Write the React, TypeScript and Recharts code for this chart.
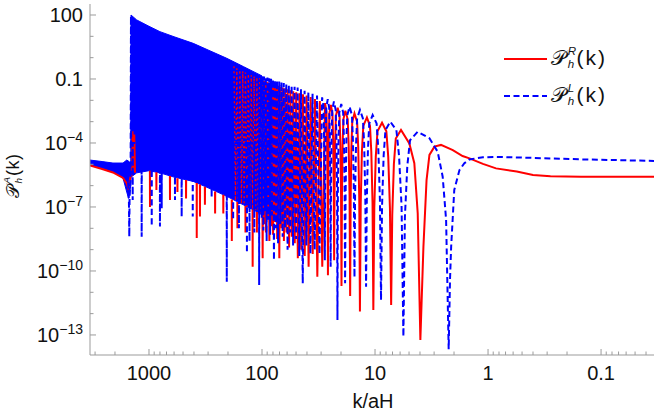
import React from 'react';
import { ComposedChart, Line, Area, XAxis, YAxis, Legend } from 'recharts';

const RED = '#ff0000';
const BLUE = '#0000ff';
const FRAME = '#9b9b9b';
const INK = '#111111';
const FONT = '"Liberation Sans", Arial, sans-serif';
const SCRIPT = '"DejaVu Sans", "DejaVu Serif", serif';

// axis range (k/aH runs from large on the left to small on the right)
const kDomain = [0.034, 3327];
const pDomain = [1.15e-14, 328];

const xMajor = [1000, 100, 10, 1, 0.1];
const xMinor = [
  3000, 2000, 900, 800, 700, 600, 500, 400, 300, 200, 90, 80, 70, 60, 50, 40, 30, 20,
  9, 8, 7, 6, 5, 4, 3, 2, 0.9, 0.8, 0.7, 0.6, 0.5, 0.4, 0.3, 0.2, 0.09, 0.08, 0.07, 0.06, 0.05, 0.04,
];
const yMajor = [1e2, 1e-1, 1e-4, 1e-7, 1e-10, 1e-13];
const yMinor = [1e1, 1, 1e-2, 1e-3, 1e-5, 1e-6, 1e-8, 1e-9, 1e-11, 1e-12];

// values below are [k/aH, log10 P]

// solid blue region where the oscillations are too dense to resolve: [k, log10 low, log10 high]
const blueBand = [
  [3327, -5.03, -4.8], [2600, -5.2, -4.87], [2085, -5.36, -4.94], [1698, -5.64, -4.94],
  [1574, -6.3, -4.8], [1515, -6.6, -4.85], [1450, -6.0, -5.0], [1443, -5.6, 2.0],
  [1285, -5.4, 1.77], [1000, -5.3, 1.47], [800, -5.4, 1.22], [600, -5.6, 0.98],
  [406, -5.8, 0.67], [300, -6.1, 0.36], [205, -6.5, -0.03], [146, -6.9, -0.42],
  [104, -7.3, -0.81], [100.5, -7.4, -0.85],
];

const redLeft = [
  [3327, -5.05], [2600, -5.22], [2085, -5.38], [1698, -5.64], [1574, -5.9],
  [1530, -6.1], [1500, -6.0], [1460, -5.6], [1420, -5.5], [1400, -3.45], [1385, -5.3],
  [1350, -3.6], [1330, -5.4],
];
// isolated dips below the dense region: [k, log10 where it leaves the blue, log10 depth]
const redDips = [
  [980, -5.3, -7.0], [860, -5.37, -6.2], [652, -5.55, -6.67], [560, -5.65, -6.3], [470, -5.73, -6.6],
  [378, -5.88, -8.46], [354, -5.95, -7.45], [320, -6.05, -6.9], [260, -6.28, -7.3], [220, -6.43, -7.3],
  [185, -6.65, -8.6], [165, -6.77, -8.0], [140, -6.95, -8.2], [121, -7.12, -9.8], [111, -7.24, -8.2],
];
// red swings seen through the gaps of the blue dashes, between k = 180 and 100
const redThrough = [
  [177, -0.4], [172, -6.7], [167, -0.5], [162, -6.8], [157, -0.58], [152, -6.85], [148, -0.64],
  [144, -6.9], [140, -0.7], [136, -7.0], [132, -0.76], [128, -7.05], [124.5, -0.82], [121, -7.1],
  [117.5, -0.87], [114, -7.15], [111, -0.92], [108, -7.2], [105, -0.96], [102, -7.3],
];
const redWaves = [
  [100.3, -1.06], [98.7, -9.4], [97.1, -1.08], [95.6, -7.8], [94, -1.1], [92.4, -8.2],
  [90.8, -1.13], [89.2, -7.5], [87.7, -1.16], [86.1, -8.6], [84.5, -1.19], [82.9, -7.9],
  [81.4, -1.22], [79.8, -8.3], [78.2, -1.25], [76.6, -7.7], [75, -1.29], [73.4, -8.5],
  [71.9, -1.32], [70.3, -9.4], [68.7, -1.36], [67.1, -8.0], [65.5, -1.4], [64, -8.6],
  [62.4, -1.44], [60.8, -8.2], [59.2, -1.48], [57.6, -8.9], [56.1, -1.53], [54.5, -8.4],
  [52.9, -1.57], [51.3, -8.7], [49.8, -1.62], [48.2, -9.4], [46.6, -1.67], [45, -9.0],
  [43.4, -1.72], [41.9, -9.3], [40.3, -1.78], [38.7, -9.8], [37.1, -1.85], [35.6, -9.2],
  [34, -1.94], [32.4, -10.27], [30.8, -2.03], [29.3, -9.8], [27.7, -2.13],
  [26.9, -2.53], [26.58, -3.73], [26.29, -6.13], [26.1, -10.2], [25.92, -6.22], [25.65, -3.82], [25.35, -2.62],
  [24.6, -2.22], [23.8, -2.62], [23.48, -3.82], [23.19, -6.22], [23, -9.5], [22.81, -6.35], [22.52, -3.95], [22.2, -2.75],
  [21.4, -2.35], [20.6, -2.75], [20.28, -3.95], [19.99, -6.35], [19.8, -10.7], [19.62, -6.49], [19.35, -4.09], [19.05, -2.89],
  [18.3, -2.49], [17.45, -2.89], [17.11, -4.09], [16.8, -6.49], [16.6, -11.17], [16.43, -6.61], [16.18, -4.21], [15.9, -3.01],
  [15.2, -2.61], [14.4, -3.01], [14.08, -4.21], [13.79, -6.61], [13.6, -11.9], [13.38, -6.8], [13.06, -4.4], [12.7, -3.2],
  [11.8, -2.8], [11.08, -3.2], [10.79, -4.4], [10.52, -6.8], [10.35, -11.83], [10.15, -7.05], [9.85, -4.65], [9.51, -3.45],
  [8.67, -3.05], [7.94, -3.45], [7.64, -4.65], [7.38, -7.05], [7.2, -11.6], [7.04, -7.39], [6.81, -4.99], [6.55, -3.79],
  [5.89, -3.39], [4.97, -4.02], [4.49, -4.95], [4.19, -7.3], [3.97, -13.24], [3.73, -8.86], [3.5, -5.74], [3.3, -4.56],
  [2.98, -4.17], [2.61, -4.09], [2.05, -4.33], [1.68, -4.61], [1.46, -4.72], [1.11, -4.98], [0.85, -5.19],
  [0.557, -5.34], [0.4, -5.5], [0.28, -5.56], [0.15, -5.58], [0.034, -5.58],
];

const blueLeft = [
  [3327, -4.92], [2600, -5.03], [2085, -5.15], [1698, -5.3], [1574, -5.5], [1530, -5.9],
  [1505, -6.8], [1494, -8.39], [1486, -6.6], [1455, -5.6], [1444, 1.95], [1436, -4],
];
const blueDips = [
  [1394, -6.67], [1161, -8.39], [946, -7.9], [800, -7.92], [772, -7.06], [589, -6.67], [514, -7.45],
  [410, -7.45], [279, -6.52], [205, -10.5], [180, -7.6], [160, -8.0], [136, -9.16], [129, -8.6],
  [117, -8.2], [106, -10.66],
];
const blueWaves = [
  [102.1, -0.84], [100.5, -7.5], [98.9, -0.86], [97.3, -8.1], [95.8, -0.88], [94.2, -7.2],
  [92.6, -0.91], [91, -8.6], [89.5, -0.93], [87.9, -7.6], [86.3, -0.96], [84.7, -8.3],
  [83.1, -0.99], [81.5, -7.4], [80, -1.02], [78.4, -9.5], [76.8, -1.05], [75.2, -8.0],
  [73.7, -1.08], [72.1, -8.7], [70.5, -1.12], [68.9, -7.8], [67.3, -1.15], [65.7, -8.4],
  [64.2, -1.19], [62.6, -8.0], [61, -1.23], [59.4, -9.0], [57.9, -1.27], [56.3, -8.2],
  [54.7, -1.31], [53.1, -8.8], [51.5, -1.36], [49.9, -8.5], [48.4, -1.4], [46.8, -9.3],
  [45.2, -1.48], [43.6, -10.58], [42, -1.55], [40.5, -8.8], [38.9, -1.62], [37.3, -9.2],
  [35.7, -1.69], [34.2, -9.0], [32.6, -1.77], [31, -9.2], [29.4, -1.86],
  [28.6, -2.26], [28.28, -3.46], [27.99, -5.86], [27.8, -9.5], [27.61, -5.95], [27.32, -3.55], [27.0, -2.35],
  [26.2, -1.95], [25.45, -2.35], [25.15, -3.55], [24.88, -5.95], [24.7, -9.8], [24.51, -6.05], [24.22, -3.65], [23.9, -2.45],
  [23.1, -2.05], [22.3, -2.45], [21.98, -3.65], [21.69, -6.05], [21.5, -12.3], [21.31, -6.17], [21.02, -3.77], [20.7, -2.57],
  [19.9, -2.17], [19.15, -2.57], [18.85, -3.77], [18.58, -6.17], [18.4, -10.58], [18.21, -6.3], [17.92, -3.9], [17.6, -2.7],
  [16.8, -2.3], [16.0, -2.7], [15.68, -3.9], [15.39, -6.3], [15.2, -10.3], [15.01, -6.45], [14.72, -4.05], [14.4, -2.85],
  [13.6, -2.45], [12.8, -2.85], [12.48, -4.05], [12.19, -6.45], [12.0, -10.74], [11.82, -6.69], [11.55, -4.29], [11.25, -3.09],
  [10.5, -2.69], [9.68, -3.09], [9.35, -4.29], [9.05, -6.69], [8.85, -11.36], [8.67, -7.0], [8.39, -4.6], [8.09, -3.4],
  [7.33, -3.0], [6.47, -3.4], [6.13, -4.6], [5.82, -7.0], [5.61, -13.08], [5.44, -7.47], [5.18, -5.07], [4.9, -3.87],
  [4.19, -3.47], [3.3, -3.78], [2.79, -4.41], [2.52, -5.58], [2.35, -7.6], [2.23, -13.67], [2.17, -10.4],
  [2.12, -8.86], [1.99, -6.2], [1.79, -5.27], [1.62, -4.95], [1.46, -4.77], [1.11, -4.67], [0.85, -4.65],
  [0.4, -4.7], [0.144, -4.77], [0.034, -4.84],
];

const toPts = (list: number[][]) => list.map(([k, e]) => ({ k, p: 10 ** e }));
const gap = (k: number) => ({ k, p: null });
// a red dip is a narrow spike leaving the blue region, kept apart from its neighbours
const redSpikes = (list: number[][]) =>
  list.flatMap(([k, top, e]) => [
    { k: k * 1.002, p: 10 ** top },
    { k, p: 10 ** e },
    { k: k / 1.002, p: 10 ** top },
    gap(k / 1.004),
  ]);
// blue dips can stay joined, the joins are hidden inside the blue region
const blueSpikes = (list: number[][]) =>
  list.flatMap(([k, e]) => [
    { k: k * 1.003, p: 1e-4 },
    { k, p: 10 ** e },
    { k: k / 1.003, p: 1e-4 },
  ]);

const redData = [...toPts(redLeft), gap(1320), ...redSpikes(redDips), ...toPts(redWaves)];
const redThroughData = toPts(redThrough);
const blueData = [...toPts(blueLeft), ...blueSpikes(blueDips), ...toPts(blueWaves)];
const bandData = blueBand.map(([k, lo, hi]) => ({ k, range: [10 ** lo, 10 ** hi] }));

const near = (v: number, list: number[]) =>
  list.some((m) => Math.abs(Math.log10(v) - Math.log10(m)) < 1e-6);

const BottomTick = ({ x, y, payload }: any) => {
  const major = near(payload.value, xMajor);
  return (
    <g>
      <line x1={x} x2={x} y1={y} y2={y - (major ? 6 : 3.5)} stroke={FRAME} />
      {major && (
        <text x={x} y={y + 25} textAnchor="middle" fontSize={20} fontFamily={FONT} fill={INK}>
          {String(payload.value)}
        </text>
      )}
    </g>
  );
};

const TopTick = ({ x, y, payload }: any) => {
  const major = near(payload.value, xMajor);
  return <line x1={x} x2={x} y1={y} y2={y + (major ? 6 : 3.5)} stroke={FRAME} />;
};

const LeftTick = ({ x, y, payload }: any) => {
  const v = payload.value;
  const major = near(v, yMajor);
  const e = Math.round(Math.log10(v));
  return (
    <g>
      <line x1={x} x2={x + (major ? 6 : 3.5)} y1={y} y2={y} stroke={FRAME} />
      {major && (
        <text x={x - 7} y={y + 7} textAnchor="end" fontSize={20} fontFamily={FONT} fill={INK}>
          {e >= -1 ? (
            String(v)
          ) : (
            <>
              <tspan>10</tspan>
              <tspan dy={-8} fontSize={14}>{`\u2212${-e}`}</tspan>
            </>
          )}
        </text>
      )}
    </g>
  );
};

const RightTick = ({ x, y, payload }: any) => {
  const major = near(payload.value, yMajor);
  return <line x1={x} x2={x - (major ? 6 : 3.5)} y1={y} y2={y} stroke={FRAME} />;
};

// script P with stacked sub "h" and a superscript, then "(k)", in one text element
const PName = ({ x, y, size, sup, spacing }: { x: number; y: number; size: number; sup: string; spacing: number }) => (
  <text x={x} y={y} fill={INK} fontFamily={FONT} fontSize={size}>
    <tspan fontFamily={SCRIPT}>{'\u{1D4AB}'}</tspan>
    <tspan x={x + 0.8 * size} y={y - 0.48 * size} fontSize={0.55 * size} fontStyle="italic">
      {sup}
    </tspan>
    <tspan x={x + 0.8 * size} y={y + 0.15 * size} fontSize={0.55 * size} fontStyle="italic">
      h
    </tspan>
    <tspan x={x + 1.22 * size} y={y} letterSpacing={spacing}>
      (k)
    </tspan>
  </text>
);

const LegendBox = () => (
  <svg width={150} height={90} style={{ overflow: 'visible' }}>
    <line x1={9} x2={52} y1={29} y2={29} stroke={RED} strokeWidth={2} />
    <PName x={56} y={35} size={21} sup="R" spacing={2} />
    <line x1={9} x2={52} y1={66} y2={66} stroke={BLUE} strokeWidth={2} strokeDasharray="6 3.5" />
    <PName x={56} y={72} size={21} sup="L" spacing={2} />
  </svg>
);

const XLabel = () => (
  <text x={373} y={408} textAnchor="middle" fontSize={20} fontFamily={FONT} fill={INK}>
    k/aH
  </text>
);

const YLabel = () => (
  <g transform="translate(19,173) rotate(-90)">
    <PName x={-25} y={0} size={18} sup="A" spacing={0.5} />
  </g>
);

export default function App() {
  return (
    <div style={{ width: 664, height: 417, background: '#fff' }}>
      <style>{'body{margin:0;}'}</style>
      <ComposedChart width={664} height={417} margin={{ top: 4, right: 10, bottom: 0, left: 0 }}>
        <XAxis
          dataKey="k"
          type="number"
          scale="log"
          domain={kDomain}
          allowDataOverflow
          reversed
          ticks={[...xMajor, ...xMinor]}
          interval={0}
          tick={<BottomTick />}
          tickLine={false}
          tickSize={0}
          tickMargin={0}
          height={62}
          axisLine={{ stroke: FRAME }}
          label={<XLabel />}
        />
        <XAxis
          xAxisId="top"
          dataKey="k"
          type="number"
          scale="log"
          domain={kDomain}
          allowDataOverflow
          reversed
          orientation="top"
          ticks={[...xMajor, ...xMinor]}
          interval={0}
          tick={<TopTick />}
          tickLine={false}
          tickSize={0}
          tickMargin={0}
          height={0}
          axisLine={{ stroke: FRAME }}
        />
        <YAxis
          type="number"
          scale="log"
          domain={pDomain}
          allowDataOverflow
          ticks={[...yMajor, ...yMinor]}
          interval={0}
          tick={<LeftTick />}
          tickLine={false}
          tickSize={0}
          tickMargin={0}
          width={90}
          axisLine={{ stroke: FRAME }}
          label={<YLabel />}
        />
        <YAxis
          yAxisId="r"
          orientation="right"
          type="number"
          scale="log"
          domain={pDomain}
          allowDataOverflow
          ticks={[...yMajor, ...yMinor]}
          interval={0}
          tick={<RightTick />}
          tickLine={false}
          tickSize={0}
          tickMargin={0}
          width={0}
          axisLine={{ stroke: FRAME }}
        />
        <Area
          data={bandData}
          dataKey="range"
          type="linear"
          stroke={BLUE}
          strokeWidth={1}
          fill={BLUE}
          fillOpacity={1}
          dot={false}
          activeDot={false}
          isAnimationActive={false}
        />
        <Line
          data={redData}
          dataKey="p"
          type="linear"
          stroke={RED}
          strokeWidth={2}
          connectNulls={false}
          dot={false}
          activeDot={false}
          isAnimationActive={false}
        />
        <Line
          data={redThroughData}
          dataKey="p"
          type="linear"
          stroke={RED}
          strokeWidth={1.3}
          strokeDasharray="2 3"
          dot={false}
          activeDot={false}
          isAnimationActive={false}
        />
        <Line
          data={blueData}
          dataKey="p"
          type="linear"
          stroke={BLUE}
          strokeWidth={2}
          strokeDasharray="6 3.5"
          dot={false}
          activeDot={false}
          isAnimationActive={false}
        />
        <Legend
          layout="vertical"
          align="center"
          verticalAlign="middle"
          wrapperStyle={{ left: 495, top: 30, width: 150, height: 90 }}
          content={() => <LegendBox />}
        />
      </ComposedChart>
    </div>
  );
}
